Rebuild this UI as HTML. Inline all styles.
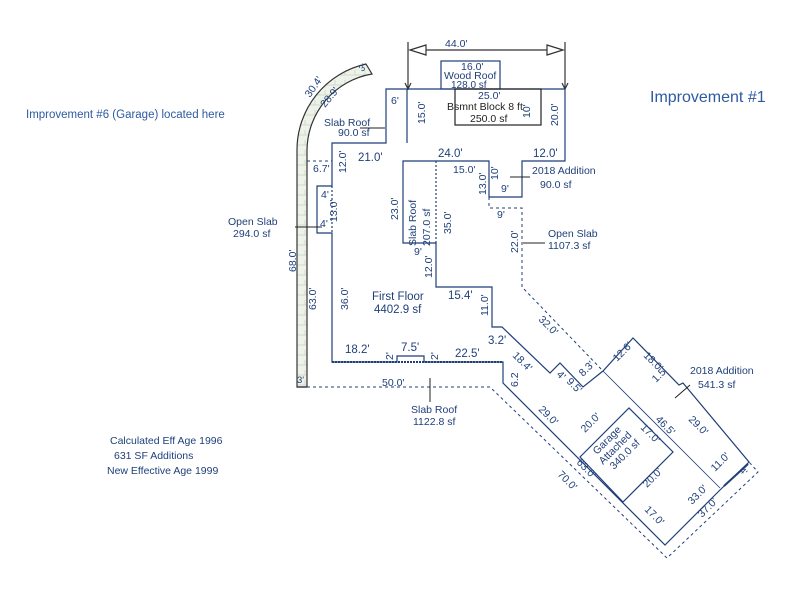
<!DOCTYPE html>
<html><head><meta charset="utf-8"><style>
html,body{margin:0;padding:0;background:#fff;}
svg{display:block;font-family:"Liberation Sans",sans-serif;}
text{fill:#1f3f7a;font-size:10.5px;}
</style></head><body>
<svg width="800" height="600" viewBox="0 0 800 600">
<defs>
<pattern id="h" width="10" height="10" patternUnits="userSpaceOnUse"><rect width="10" height="10" fill="#eef3ea"/><path d="M0 5H10M5 0V5" stroke="#c8d0c4" stroke-width="0.7"/></pattern>
</defs>
<g fill="none" stroke="#1f3f7a" stroke-width="1.2">
<path d="M297 387 V150 A88 88 0 0 1 366 64 L372 74 A78 78 0 0 0 307 150 V387 Z" fill="url(#h)" stroke="#333"/>
<line x1="297" y1="387" x2="307" y2="387" stroke="#333"/>
<line x1="408" y1="42" x2="408" y2="89" stroke="#333"/>
<line x1="565" y1="42" x2="565" y2="89" stroke="#333"/>
<line x1="420" y1="50" x2="553" y2="50" stroke="#333"/>
<path d="M410 50 L426 45 V55 Z M563 50 L547 45 V55 Z" stroke="#333" fill="#fff"/>
<path d="M405 83 L408 89 L411 83 M562 83 L565 89 L568 83" stroke="#333"/>
<path d="M386 89 H565 V161 H522 V197 H489 V161 H403 V243 H436 V287 H492 V327 H502 L550 373 L560 363 L583 387 L603 371 L633 338 L679 385 L683 383 L749 462 L720 490 L665 545 L503 383 V362 H424 V356 H397 V362 H332 V233 H317 V186 H332 V143 H386 Z"/>
<line x1="407" y1="89" x2="407" y2="143"/>
<rect x="441" y="61" width="59" height="28"/>
<rect x="455" y="89" width="86" height="36" stroke="#222"/>
<line x1="436" y1="161" x2="436" y2="243" stroke-dasharray="2 2"/>
<line x1="332" y1="186" x2="332" y2="233" stroke-dasharray="2 2"/>
<line x1="332" y1="362" x2="503" y2="362" stroke-dasharray="2 1" stroke-width="2"/>
<path d="M580 457 L629 408 L673 452 L623 502 Z"/>
<line x1="603" y1="371" x2="720" y2="488" stroke-width="0.8"/>
<line x1="724" y1="486" x2="748" y2="464" stroke-width="2"/>
<g stroke-dasharray="3 3" stroke-width="1">
<path d="M307 161 H332"/>
<path d="M489 197 V208 H522 V287 L603 371"/>
<path d="M307 387 H490 L667 558 L758 472 L749 462"/>
</g>
<g stroke="#222" stroke-width="1">
<line x1="295" y1="227" x2="322" y2="227"/>
<line x1="360" y1="128" x2="385" y2="128"/>
<line x1="530" y1="177" x2="510" y2="177"/>
<line x1="545" y1="243" x2="523" y2="243"/>
<line x1="430" y1="378" x2="430" y2="402"/>
<line x1="690" y1="385" x2="675" y2="398"/>
</g>
</g>
<text x="26" y="118" style="fill:#2d5aa0;font-size:11.5px">Improvement #6 (Garage) located here</text>
<text x="650" y="102" style="fill:#2d5aa0;font-size:16px">Improvement #1</text>
<text x="445" y="47">44.0'</text>
<text x="461" y="70">16.0'</text>
<text x="444" y="79">Wood Roof</text>
<text x="451" y="88" style="font-size:10px">128.0 sf</text>
<text x="478" y="99">25.0'</text>
<text x="447" y="110" style="fill:#222">Bsmnt Block 8 ft</text>
<text x="470" y="122" style="fill:#222">250.0 sf</text>
<text x="324" y="126">Slab Roof</text>
<text x="338" y="136">90.0 sf</text>
<text x="391" y="104">6'</text>
<text x="358" y="161" style="font-size:11.5px">21.0'</text>
<text x="438" y="157" style="font-size:11.5px">24.0'</text>
<text x="533" y="157" style="font-size:11.5px">12.0'</text>
<text x="453" y="173">15.0'</text>
<text x="532" y="174">2018 Addition</text>
<text x="540" y="188">90.0 sf</text>
<text x="501" y="192">9'</text>
<text x="497" y="218">9'</text>
<text x="548" y="237">Open Slab</text>
<text x="548" y="249">1107.3 sf</text>
<text x="228" y="225">Open Slab</text>
<text x="233" y="237">294.0 sf</text>
<text x="313" y="172">6.7'</text>
<text x="321" y="198">4'</text>
<text x="320" y="227">4'</text>
<text x="414" y="255">9'</text>
<text x="372" y="300" style="font-size:11.5px">First Floor</text>
<text x="374" y="313" style="font-size:11.5px">4402.9 sf</text>
<text x="448" y="299" style="font-size:11.5px">15.4'</text>
<text x="488" y="344" style="font-size:11.5px">3.2'</text>
<text x="345" y="353" style="font-size:11.5px">18.2'</text>
<text x="401" y="351" style="font-size:11.5px">7.5'</text>
<text x="455" y="357" style="font-size:11.5px">22.5'</text>
<text x="382" y="386">50.0'</text>
<text x="411" y="413">Slab Roof</text>
<text x="413" y="425">1122.8 sf</text>
<text x="297" y="383" style="font-size:9.5px">3'</text>
<text x="690" y="374">2018 Addition</text>
<text x="698" y="388">541.3 sf</text>
<text x="110" y="444">Calculated Eff Age 1996</text>
<text x="114" y="459">631 SF Additions</text>
<text x="107" y="474">New Effective Age 1999</text>
<g>
<text transform="translate(425,124) rotate(-90)">15.0'</text>
<text transform="translate(530,118) rotate(-90)">10'</text>
<text transform="translate(558,126) rotate(-90)">20.0'</text>
<text transform="translate(346,173) rotate(-90)">12.0'</text>
<text transform="translate(337,222) rotate(-90)">13.0'</text>
<text transform="translate(398,220) rotate(-90)">23.0'</text>
<text transform="translate(416,246) rotate(-90)">Slab Roof</text>
<text transform="translate(430,246) rotate(-90)">207.0 sf</text>
<text transform="translate(451,234) rotate(-90)">35.0'</text>
<text transform="translate(486,195) rotate(-90)">13.0'</text>
<text transform="translate(498,180) rotate(-90)">10'</text>
<text transform="translate(518,253) rotate(-90)">22.0'</text>
<text transform="translate(432,278) rotate(-90)">12.0'</text>
<text transform="translate(296,272) rotate(-90)">68.0'</text>
<text transform="translate(316,310) rotate(-90)">63.0'</text>
<text transform="translate(348,310) rotate(-90)">36.0'</text>
<text transform="translate(488,316) rotate(-90)">11.0'</text>
<text transform="translate(393,360) rotate(-90)">2'</text>
<text transform="translate(438,360) rotate(-90)">2'</text>
<text transform="translate(518,387) rotate(-90)">6.2</text>
<text transform="translate(310,98) rotate(-55)">30.4'</text>
<text transform="translate(325,108) rotate(-50)">28.9'</text>
<text transform="translate(362,72) rotate(-40)" style="font-size:9px">3'</text>
<text transform="translate(538,320) rotate(45)">32.0'</text>
<text transform="translate(512,356) rotate(45)">18.4'</text>
<text transform="translate(556,375) rotate(45)">4'</text>
<text transform="translate(566,382) rotate(45)">9.5'</text>
<text transform="translate(583,377) rotate(-45)">8.3'</text>
<text transform="translate(617,362) rotate(-45)">12.6'</text>
<text transform="translate(643,356) rotate(45)">18.0'</text>
<text transform="translate(656,383) rotate(-45)">1.5</text>
<text transform="translate(538,410) rotate(45)">29.0'</text>
<text transform="translate(585,433) rotate(-45)">20.0'</text>
<text transform="translate(597,455) rotate(-45)">Garage</text>
<text transform="translate(603,465) rotate(-45)">Attached</text>
<text transform="translate(614,470) rotate(-45)">340.0 sf</text>
<text transform="translate(640,428) rotate(45)">17.0'</text>
<text transform="translate(655,420) rotate(45)">46.5'</text>
<text transform="translate(688,420) rotate(45)">29.0'</text>
<text transform="translate(715,472) rotate(-45)">11.0'</text>
<text transform="translate(739,471) rotate(45)" style="font-size:9px">4'</text>
<text transform="translate(576,463) rotate(45)">63.0'</text>
<text transform="translate(557,475) rotate(45)">70.0'</text>
<text transform="translate(647,488) rotate(-45)">20.0'</text>
<text transform="translate(644,510) rotate(45)">17.0'</text>
<text transform="translate(692,505) rotate(-45)">33.0'</text>
<text transform="translate(702,518) rotate(-45)">37.0'</text>
</g>
</svg>
</body></html>
